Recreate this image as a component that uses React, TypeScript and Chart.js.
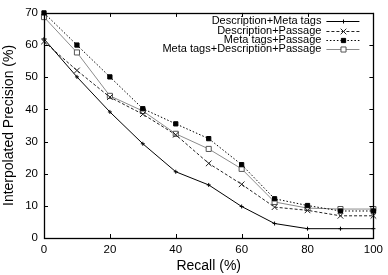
import React, { useEffect, useRef } from 'react';
import { Chart, registerables } from 'chart.js';

Chart.register(...registerables);

const recall = [0, 10, 20, 30, 40, 50, 60, 70, 80, 90, 100];
const descMeta = [61.9, 50.1, 39.2, 29.3, 20.6, 16.5, 9.8, 4.5, 2.9, 2.9, 2.9];
const descPassage = [61.1, 52.1, 43.8, 38.5, 32.1, 23.2, 16.7, 9.6, 8.6, 6.9, 6.9];
const metaPassage = [70, 60, 50.1, 40.2, 35.5, 30.9, 22.8, 12.2, 10.1, 8.4, 8.4];
const metaDescPassage = [68.7, 57.7, 44.2, 39.5, 32.4, 27.7, 21.5, 11.2, 9.3, 9.0, 9.0];
const seriesNames = [
  'Description+Meta tags',
  'Description+Passage',
  'Meta tags+Passage',
  'Meta tags+Description+Passage',
];
const xTickValues = [0, 20, 40, 60, 80, 100];
const yTickValues = [0, 10, 20, 30, 40, 50, 60, 70];

const FONT = '"Liberation Sans", Arial, Helvetica, sans-serif';

function drawMarker(ctx: CanvasRenderingContext2D, style: string, x: number, y: number, r: number, fill: string, stroke: string) {
  ctx.beginPath();
  ctx.strokeStyle = stroke;
  ctx.fillStyle = fill;
  ctx.lineWidth = 1;
  if (style === 'cross') {
    ctx.moveTo(x - r, y);
    ctx.lineTo(x + r, y);
    ctx.moveTo(x, y - r);
    ctx.lineTo(x, y + r);
    ctx.stroke();
  } else if (style === 'crossRot') {
    const s = Math.SQRT1_2 * r;
    ctx.moveTo(x - s, y - s);
    ctx.lineTo(x + s, y + s);
    ctx.moveTo(x - s, y + s);
    ctx.lineTo(x + s, y - s);
    ctx.stroke();
  } else {
    const s = Math.SQRT1_2 * r;
    ctx.rect(x - s, y - s, 2 * s, 2 * s);
    ctx.fill();
    ctx.stroke();
  }
}

const boxPlugin = {
  id: 'gnuplotBox',
  afterDatasetsDraw(chart: any) {
    const { ctx, chartArea } = chart;
    const { left, right, top, bottom } = chartArea;
    const xs = chart.scales.x;
    const ys = chart.scales.y;
    ctx.save();
    ctx.strokeStyle = '#000';
    ctx.lineWidth = 1;
    ctx.setLineDash([]);
    ctx.beginPath();
    const tl = 4;
    for (const v of xTickValues) {
      const px = Math.round(xs.getPixelForValue(v)) + 0.5;
      ctx.moveTo(px, bottom);
      ctx.lineTo(px, bottom - tl);
      ctx.moveTo(px, top);
      ctx.lineTo(px, top + tl);
    }
    for (const v of yTickValues) {
      const py = Math.round(ys.getPixelForValue(v)) + 0.5;
      ctx.moveTo(left, py);
      ctx.lineTo(left + tl, py);
      ctx.moveTo(right, py);
      ctx.lineTo(right - tl, py);
    }
    ctx.stroke();
    ctx.lineWidth = 1.3;
    ctx.strokeRect(Math.round(left) + 0.5, Math.round(top) + 0.5, Math.round(right - left), Math.round(bottom - top));
    ctx.restore();
  },
  afterDraw(chart: any) {
    const { ctx, chartArea } = chart;
    const textRight = chartArea.right - 52;
    const lineStart = textRight + 5;
    const lineEnd = textRight + 38;
    const rowTop = chartArea.top + 8.3;
    const rowH = 9.3;
    ctx.save();
    ctx.font = '11px ' + FONT;
    ctx.textAlign = 'right';
    ctx.textBaseline = 'middle';
    chart.data.datasets.forEach((ds: any, i: number) => {
      const y = rowTop + i * rowH;
      ctx.fillStyle = '#000';
      ctx.fillText(ds.label, textRight, y);
      const ly = Math.round(y) + 0.5;
      ctx.strokeStyle = ds.borderColor;
      ctx.lineWidth = ds.borderWidth;
      ctx.setLineDash(ds.borderDash || []);
      ctx.beginPath();
      ctx.moveTo(lineStart, ly);
      ctx.lineTo(lineEnd, ly);
      ctx.stroke();
      ctx.setLineDash([]);
      drawMarker(ctx, ds.pointStyle, Math.round((lineStart + lineEnd) / 2) + 0.5, ly, ds.pointRadius, ds.pointBackgroundColor, ds.pointBorderColor);
    });
    ctx.restore();
  },
};

function toPoints(vals: number[]) {
  return vals.map((v, i) => ({ x: recall[i], y: v }));
}

export default function App() {
  const ref = useRef<HTMLCanvasElement | null>(null);
  useEffect(() => {
    if (!ref.current) return;
    const chart = new Chart(ref.current, {
      type: 'line',
      data: {
        datasets: [
          {
            label: seriesNames[0],
            data: toPoints(descMeta),
            borderColor: '#000',
            borderWidth: 1,
            pointStyle: 'cross',
            pointRadius: 2,
            pointBorderColor: '#000',
            pointBackgroundColor: '#000',
            pointBorderWidth: 1,
            clip: false,
          },
          {
            label: seriesNames[1],
            data: toPoints(descPassage),
            borderColor: '#222',
            borderWidth: 1,
            borderDash: [3, 2],
            pointStyle: 'crossRot',
            pointRadius: 4,
            pointBorderColor: '#222',
            pointBackgroundColor: '#222',
            pointBorderWidth: 1,
            clip: false,
          },
          {
            label: seriesNames[2],
            data: toPoints(metaPassage),
            borderColor: '#000',
            borderWidth: 1,
            borderDash: [1.5, 2],
            pointStyle: 'rect',
            pointRadius: 3,
            pointBorderColor: '#000',
            pointBackgroundColor: '#000',
            pointBorderWidth: 1,
            clip: false,
          },
          {
            label: seriesNames[3],
            data: toPoints(metaDescPassage),
            borderColor: '#8c8c8c',
            borderWidth: 1,
            pointStyle: 'rect',
            pointRadius: 3.6,
            pointBorderColor: '#555',
            pointBackgroundColor: '#fff',
            pointBorderWidth: 1,
            clip: false,
          },
        ] as any,
      },
      options: {
        animation: false,
        responsive: false,
        maintainAspectRatio: false,
        layout: { padding: { left: 0, top: 7, right: 12, bottom: 0 } },
        plugins: { legend: { display: false }, tooltip: { enabled: false } },
        elements: { line: { tension: 0 } },
        scales: {
          x: {
            type: 'linear',
            min: 0,
            max: 100,
            afterBuildTicks: (scale: any) => {
              scale.ticks = xTickValues.map((v) => ({ value: v }));
            },
            afterFit: (scale: any) => {
              scale.height = 37;
            },
            grid: { display: false, drawTicks: false },
            border: { display: false },
            ticks: { color: '#000', font: { family: FONT, size: 11.5 }, padding: 5, maxRotation: 0 },
            title: {
              display: true,
              text: 'Recall (%)',
              color: '#000',
              font: { family: FONT, size: 14 },
              padding: { top: 0, bottom: 0 },
            },
          },
          y: {
            type: 'linear',
            min: 0,
            max: 70,
            afterBuildTicks: (scale: any) => {
              scale.ticks = yTickValues.map((v) => ({ value: v }));
            },
            afterFit: (scale: any) => {
              scale.width = 44;
            },
            grid: { display: false, drawTicks: false },
            border: { display: false },
            ticks: { color: '#000', font: { family: FONT, size: 11.5 }, padding: 6 },
            title: {
              display: true,
              text: 'Interpolated Precision (%)',
              color: '#000',
              font: { family: FONT, size: 14 },
              padding: { top: 1, bottom: 0 },
            },
          },
        },
      } as any,
      plugins: [boxPlugin],
    });
    return () => chart.destroy();
  }, []);
  return (
    <div style={{ position: 'fixed', left: 0, top: 0, width: 388, height: 275, background: '#fff' }}>
      <canvas ref={ref} width={388} height={275} style={{ width: 388, height: 275, display: 'block' }} />
    </div>
  );
}
